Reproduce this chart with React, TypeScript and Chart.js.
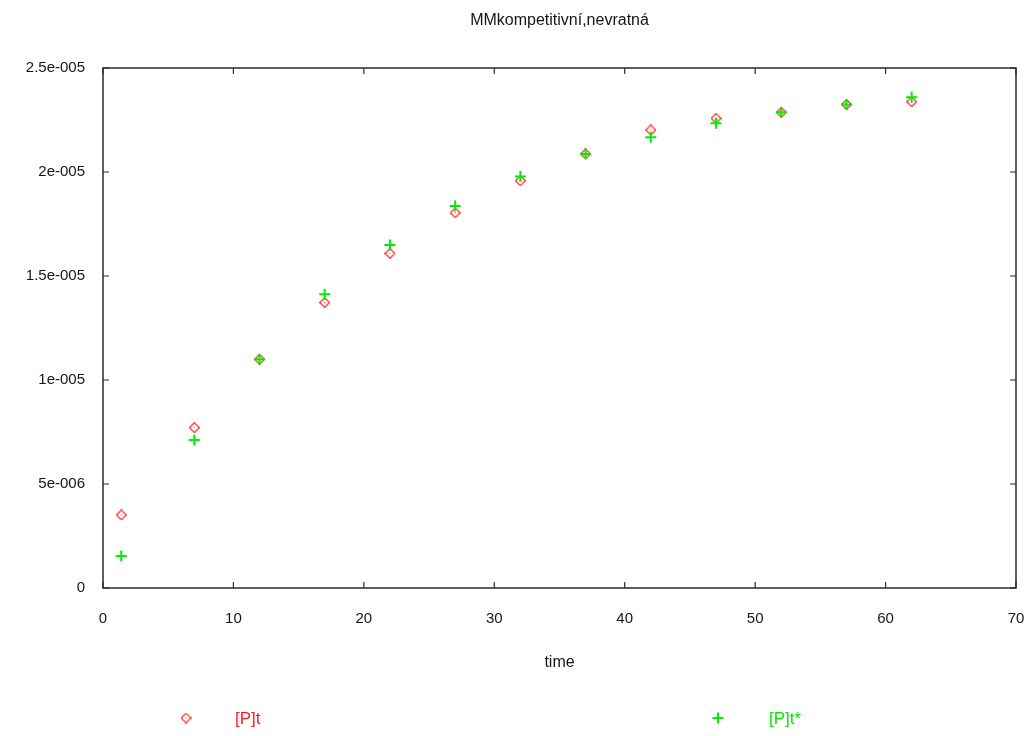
import React, { useEffect, useRef } from "react";
import { Chart, registerables } from "chart.js";

Chart.register(...registerables);

const chartTitle = "MMkompetitivní,nevratná";
const xAxisTitle = "time";
const seriesNames = ["[P]t", "[P]t*"];
const timeValues = [1.4, 7, 12, 17, 22, 27, 32, 37, 42, 47, 52, 57, 62];
const ptValues = [3.51e-6, 7.71e-6, 11.0e-6, 13.72e-6, 16.09e-6, 18.04e-6, 19.58e-6, 20.87e-6, 22.02e-6, 22.58e-6, 22.87e-6, 23.25e-6, 23.38e-6];
const ptStarValues = [1.54e-6, 7.12e-6, 11.0e-6, 14.12e-6, 16.49e-6, 18.37e-6, 19.78e-6, 20.87e-6, 21.67e-6, 22.34e-6, 22.87e-6, 23.25e-6, 23.59e-6];
const yTickLabels = ["0", "5e-006", "1e-005", "1.5e-005", "2e-005", "2.5e-005"];

const RED = "#ff1e1e";
const GREEN = "#00ee00";
const AXIS = "#2a2a2a";
const TEXT = "#151515";
const FONT = '"Liberation Sans", Arial, sans-serif';

function makeDiamond(): HTMLCanvasElement {
  const c = document.createElement("canvas");
  c.width = 11;
  c.height = 11;
  const g = c.getContext("2d")!;
  g.strokeStyle = RED;
  g.lineWidth = 1.2;
  g.beginPath();
  g.moveTo(5.5, 0.6);
  g.lineTo(10.4, 5.5);
  g.lineTo(5.5, 10.4);
  g.lineTo(0.6, 5.5);
  g.closePath();
  g.stroke();
  g.fillStyle = RED;
  g.fillRect(5, 5, 1, 1);
  return c;
}

export default function App() {
  const ref = useRef<HTMLCanvasElement | null>(null);

  useEffect(() => {
    if (!ref.current) return;
    const diamond = makeDiamond();

    const framePlugin = {
      id: "frame",
      afterDraw(chart: any) {
        const { ctx, chartArea: a, scales } = chart;
        const xs = scales.x;
        const ys = scales.y;
        ctx.save();
        ctx.strokeStyle = AXIS;
        ctx.lineWidth = 1.5;
        ctx.strokeRect(a.left, a.top, a.right - a.left, a.bottom - a.top);
        const tl = 6;
        ctx.lineWidth = 1.2;
        ctx.beginPath();
        xs.ticks.forEach((t: any) => {
          const px = xs.getPixelForValue(t.value);
          ctx.moveTo(px, a.bottom);
          ctx.lineTo(px, a.bottom - tl);
          ctx.moveTo(px, a.top);
          ctx.lineTo(px, a.top + tl);
        });
        ys.ticks.forEach((t: any) => {
          const py = ys.getPixelForValue(t.value);
          ctx.moveTo(a.left, py);
          ctx.lineTo(a.left + tl, py);
          ctx.moveTo(a.right, py);
          ctx.lineTo(a.right - tl, py);
        });
        ctx.stroke();

        // legend
        const ly = 718;
        ctx.drawImage(diamond, 186 - 5.5, ly - 5.5);
        ctx.strokeStyle = GREEN;
        ctx.lineWidth = 2;
        ctx.beginPath();
        ctx.moveTo(718 - 5.5, ly);
        ctx.lineTo(718 + 5.5, ly);
        ctx.moveTo(718, ly - 5.5);
        ctx.lineTo(718, ly + 5.5);
        ctx.stroke();
        ctx.font = "17px " + FONT;
        ctx.textBaseline = "middle";
        ctx.textAlign = "left";
        ctx.fillStyle = RED;
        ctx.fillText(seriesNames[0], 235, ly + 1);
        ctx.fillStyle = GREEN;
        ctx.fillText(seriesNames[1], 769, ly + 1);
        ctx.restore();
      },
    };

    const chart = new Chart(ref.current, {
      type: "scatter",
      data: {
        datasets: [
          {
            label: seriesNames[0],
            data: timeValues.map((x, i) => ({ x, y: ptValues[i] })),
            pointStyle: diamond as any,
            borderColor: RED,
            backgroundColor: "transparent",
            order: 1,
          },
          {
            label: seriesNames[1],
            data: timeValues.map((x, i) => ({ x, y: ptStarValues[i] })),
            pointStyle: "cross",
            pointRadius: 5.5,
            borderWidth: 2,
            borderColor: GREEN,
            backgroundColor: GREEN,
            order: 0,
          },
        ],
      },
      options: {
        responsive: false,
        animation: false,
        layout: { padding: { left: 0, right: 13, top: 0, bottom: 0 } },
        plugins: {
          legend: { display: false },
          tooltip: { enabled: false },
          title: {
            display: true,
            text: chartTitle,
            fullSize: false,
            color: TEXT,
            font: { family: FONT, size: 16, weight: "normal" },
            padding: { top: 11.4, bottom: 37.4 },
          },
        },
        scales: {
          x: {
            type: "linear",
            min: 0,
            max: 70,
            ticks: {
              stepSize: 10,
              color: TEXT,
              font: { family: FONT, size: 15 },
              padding: 22,
            },
            grid: { display: false, drawTicks: false },
            border: { display: false },
            title: {
              display: true,
              text: xAxisTitle,
              color: TEXT,
              font: { family: FONT, size: 16 },
              padding: { top: 0, bottom: 63.4 },
            },
            afterFit(scale: any) {
              scale.height = 148;
              scale.paddingLeft = 0;
              scale.paddingRight = 0;
            },
          },
          y: {
            type: "linear",
            min: 0,
            max: 2.5e-5,
            ticks: {
              stepSize: 5e-6,
              color: TEXT,
              font: { family: FONT, size: 15 },
              padding: 18,
              callback: (_v: any, i: number) => yTickLabels[i],
            },
            grid: { display: false, drawTicks: false },
            border: { display: false },
            afterFit(scale: any) {
              scale.width = 103;
              scale.paddingTop = 0;
              scale.paddingBottom = 0;
            },
          },
        },
      },
      plugins: [framePlugin],
    });
    return () => chart.destroy();
  }, []);

  return (
    <div style={{ position: "absolute", left: 0, top: 0, width: 1029, height: 736, background: "#fff" }}>
      <canvas ref={ref} width={1029} height={736} />
    </div>
  );
}
